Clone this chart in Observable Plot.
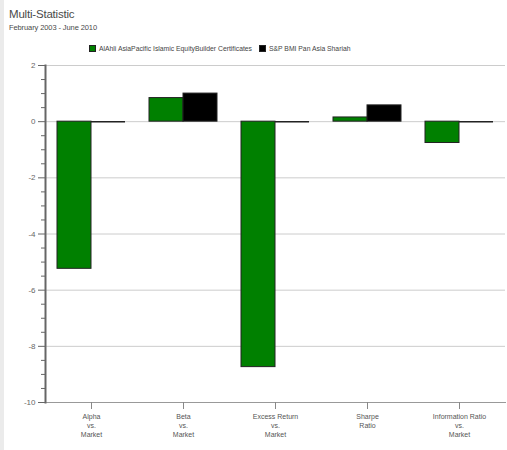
<!DOCTYPE html>
<html>
<head>
<meta charset="utf-8">
<script src="https://cdn.jsdelivr.net/npm/d3@7"></script>
<script src="https://cdn.jsdelivr.net/npm/@observablehq/plot@0.6"></script>
<style>
  html, body { margin: 0; padding: 0; background: #fff; font-family: "Liberation Sans", Arial, sans-serif; }
  #strip { position: absolute; left: 0; top: 0; width: 4px; height: 450px; background: #ebebeb; }
  #header { position: relative; width: 507px; height: 60px; }
  #title { position: absolute; left: 9px; top: 8px; font-size: 11.5px; color: #4a4a4a; letter-spacing: -0.2px; }
  #subtitle { position: absolute; left: 9px; top: 23px; font-size: 7.5px; color: #4a4a4a; letter-spacing: -0.1px; }
  .leg { position: absolute; top: 45px; font-size: 6.8px; color: #444; white-space: nowrap; }
  .sw { display: inline-block; width: 5px; height: 5px; border: 1px solid #222; vertical-align: -1px; margin-right: 3px; }
  #chart svg { display: block; }
</style>
</head>
<body>
<div id="strip"></div>
<div id="header">
  <div id="title"></div>
  <div id="subtitle"></div>
  <div class="leg" id="leg0" style="left:89px"></div>
  <div class="leg" id="leg1" style="left:259px"></div>
</div>
<div id="chart"></div>
<script>
const titleText = "Multi-Statistic";
const subtitleText = "February 2003 - June 2010";
const seriesNames = ["AlAhli AsiaPacific Islamic EquityBuilder Certificates", "S&P BMI Pan Asia Shariah"];
const seriesColors = ["#008000", "#000000"];
const categories = ["Alpha vs. Market", "Beta vs. Market", "Excess Return vs. Market", "Sharpe Ratio", "Information Ratio vs. Market"];
const categoryLabels = ["Alpha\nvs.\nMarket", "Beta\nvs.\nMarket", "Excess Return\nvs.\nMarket", "Sharpe\nRatio", "Information Ratio\nvs.\nMarket"];
const fundValues = [-5.24, 0.84, -8.74, 0.15, -0.76];
const indexValues = [0, 1.0, 0, 0.58, 0];
const yMajorTicks = [-10, -8, -6, -4, -2, 0, 2];
const yMinorTicks = [-9.5, -9, -8.5, -7.5, -7, -6.5, -5.5, -5, -4.5, -3.5, -3, -2.5, -1.5, -1, -0.5, 0.5, 1, 1.5];

document.getElementById("title").textContent = titleText;
document.getElementById("subtitle").textContent = subtitleText;
["leg0", "leg1"].forEach((id, i) => {
  const el = document.getElementById(id);
  const sw = document.createElement("span");
  sw.className = "sw";
  sw.style.background = seriesColors[i];
  el.appendChild(sw);
  el.appendChild(document.createTextNode(seriesNames[i]));
});

const fundRows = categories.map((c, i) => ({cat: c, value: fundValues[i]}));
const indexRows = categories.map((c, i) => ({cat: c, value: indexValues[i]}));
const labelOf = new Map(categories.map((c, i) => [c, categoryLabels[i]]));

const chart = Plot.plot({
  width: 507,
  height: 390,
  marginLeft: 45,
  marginRight: 2,
  marginTop: 5,
  marginBottom: 48,
  style: {fontFamily: "Liberation Sans, Arial, sans-serif", background: "transparent"},
  x: {domain: categories, padding: 0, axis: null, label: null},
  y: {domain: [-10, 2], axis: null, label: null},
  marks: [
    Plot.gridY(yMajorTicks.filter(d => d > -10), {stroke: "#cccccc", strokeOpacity: 1, strokeWidth: 1}),
    Plot.barY(fundRows, {x: "cat", y: "value", fill: seriesColors[0], stroke: "#222", strokeWidth: 1, insetLeft: 12, insetRight: 46}),
    Plot.barY(indexRows, {x: "cat", y: "value", fill: seriesColors[1], stroke: "#222", strokeWidth: 1, insetLeft: 46, insetRight: 12}),
    Plot.tickY(fundRows.filter(d => d.value === 0), {x: "cat", y: "value", stroke: "#222", strokeWidth: 1.5, insetLeft: 12, insetRight: 46}),
    Plot.tickY(indexRows.filter(d => d.value === 0), {x: "cat", y: "value", stroke: "#222", strokeWidth: 1.5, insetLeft: 46, insetRight: 12}),
    Plot.frame({anchor: "bottom", stroke: "#999"}),
    Plot.axisX({label: null, tickSize: 7, tickPadding: 3, stroke: "#888", fill: "#555", fontSize: 7, lineHeight: 1.3, tickFormat: d => labelOf.get(d)}),
    Plot.axisY({label: null, ticks: yMinorTicks, tickSize: 4, tickFormat: () => "", stroke: "#666"}),
    Plot.axisY({label: null, ticks: yMajorTicks, tickSize: 7, tickPadding: 3, stroke: "#666", fill: "#666", fontSize: 8, tickFormat: d => String(d)}),
    Plot.frame({anchor: "left", stroke: "#666", strokeWidth: 2})
  ]
});
document.getElementById("chart").appendChild(chart);
</script>
</body>
</html>
